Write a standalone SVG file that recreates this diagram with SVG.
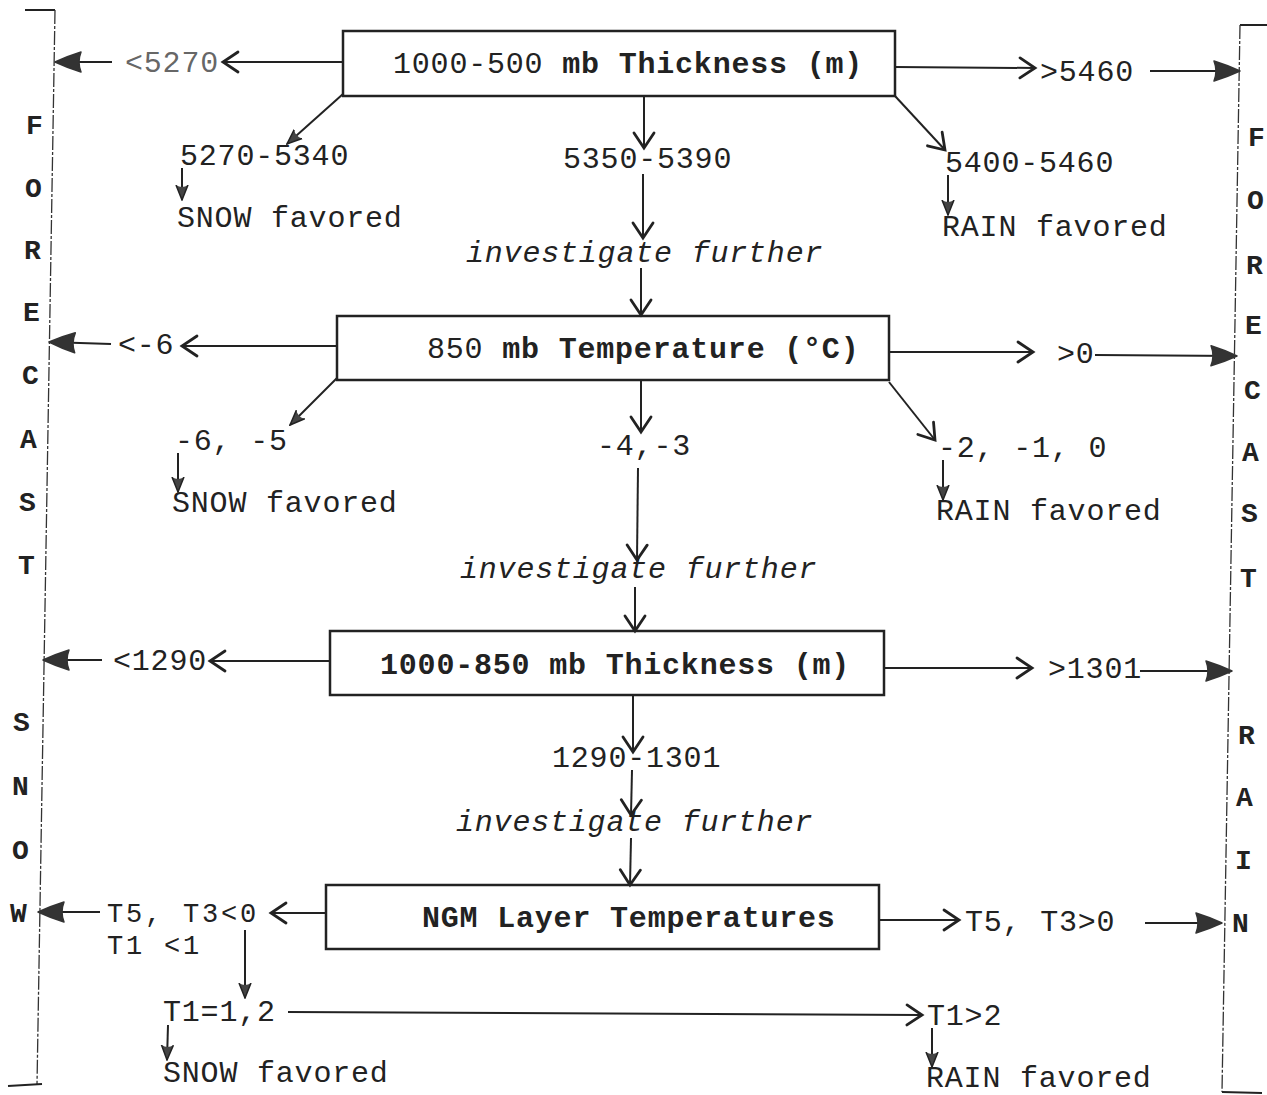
<svg xmlns="http://www.w3.org/2000/svg" width="1267" height="1095" viewBox="0 0 1267 1095">
<defs>
<style>
.t{font-family:"Liberation Mono","Courier New",monospace;font-size:30px;letter-spacing:0.8px;fill:#222}
.tc{font-family:"Liberation Mono","Courier New",monospace;font-size:27px;letter-spacing:2.8px;fill:#222}
.it{font-style:italic}
.b{font-weight:bold}
.side{font-family:"Liberation Mono","Courier New",monospace;font-size:28px;font-weight:bold;fill:#222}
.box{fill:#fff;stroke:#222;stroke-width:2.5}
.ln{stroke:#222;stroke-width:2;fill:none}
.edge{stroke:#333;stroke-width:1.3;fill:none;stroke-dasharray:14 2 3 2}
.frame{stroke:#222;stroke-width:2;fill:none}
</style>
<marker id="big" viewBox="0 0 28 24" refX="27" refY="12" markerWidth="28" markerHeight="24" markerUnits="userSpaceOnUse" orient="auto">
<path d="M1,2 Q14,6 27,12 Q14,18 1,22 Q5,12 1,2 z" fill="#333" stroke="#333" stroke-width="1.5" stroke-linejoin="round"/>
</marker>
<marker id="chev" viewBox="0 0 20 24" refX="17" refY="12" markerWidth="20" markerHeight="24" markerUnits="userSpaceOnUse" orient="auto">
<path d="M2,2 L17,12 L2,22" fill="none" stroke="#222" stroke-width="2.8" stroke-linecap="round"/>
</marker>
<marker id="sm" viewBox="0 0 16 14" refX="15" refY="7" markerWidth="16" markerHeight="14" markerUnits="userSpaceOnUse" orient="auto">
<path d="M0,1 L15,7 L0,13 Q4,7 0,1 z" fill="#444"/>
<path d="M0,1 L15,7 L0,13" fill="none" stroke="#222" stroke-width="1.5"/>
</marker>
</defs>

<g id="frame-left">
<path class="frame" d="M25,10 L55,10"/>
<path class="edge" d="M55,10 L37,1085"/>
<path class="frame" d="M8,1086 L42,1084"/>
<text class="side" x="26" y="134">F</text>
<text class="side" x="25" y="197">O</text>
<text class="side" x="24" y="259">R</text>
<text class="side" x="23" y="321">E</text>
<text class="side" x="22" y="384">C</text>
<text class="side" x="20" y="448">A</text>
<text class="side" x="19" y="511">S</text>
<text class="side" x="18" y="574">T</text>
<text class="side" x="13" y="731">S</text>
<text class="side" x="12" y="795">N</text>
<text class="side" x="12" y="859">O</text>
<text class="side" x="10" y="922">W</text>
</g>

<g id="frame-right">
<path class="frame" d="M1240,25 L1267,25"/>
<path class="edge" d="M1240,25 L1222,1092"/>
<path class="frame" d="M1222,1092 L1262,1093"/>
<text class="side" x="1248" y="146">F</text>
<text class="side" x="1247" y="209">O</text>
<text class="side" x="1246" y="274">R</text>
<text class="side" x="1245" y="334">E</text>
<text class="side" x="1244" y="399">C</text>
<text class="side" x="1242" y="461">A</text>
<text class="side" x="1241" y="522">S</text>
<text class="side" x="1240" y="587">T</text>
<text class="side" x="1238" y="744">R</text>
<text class="side" x="1236" y="806">A</text>
<text class="side" x="1235" y="869">I</text>
<text class="side" x="1232" y="932">N</text>
</g>

<g id="node-thick500">
<rect class="box" x="343" y="31" width="552" height="65"/>
<text class="t" x="393" y="73"><tspan>1000-500 </tspan><tspan class="b">mb Thickness (m)</tspan></text>
</g>

<g id="node-t850">
<rect class="box" x="337" y="316" width="552" height="64"/>
<text class="t" x="427" y="358"><tspan>850 </tspan><tspan class="b">mb Temperature (°C)</tspan></text>
</g>

<g id="node-thick850">
<rect class="box" x="330" y="631" width="554" height="64"/>
<text class="t b" x="380" y="674">1000-850 mb Thickness (m)</text>
</g>

<g id="node-ngm">
<rect class="box" x="326" y="885" width="553" height="64"/>
<text class="t b" x="422" y="927">NGM Layer Temperatures</text>
</g>

<g id="labels">
<text class="t" x="125" y="72" fill-opacity="0.7">&lt;5270</text>
<text class="t" x="1040" y="81">&gt;5460</text>
<text class="t" x="180" y="165">5270-5340</text>
<text class="t" x="177" y="227">SNOW favored</text>
<text class="t" x="563" y="168">5350-5390</text>
<text class="t it" x="466" y="262">investigate further</text>
<text class="t" x="945" y="172">5400-5460</text>
<text class="t" x="942" y="236">RAIN favored</text>

<text class="t" x="118" y="354">&lt;-6</text>
<text class="t" x="1057" y="363">&gt;0</text>
<text class="t" x="175" y="450">-6, -5</text>
<text class="t" x="172" y="512">SNOW favored</text>
<text class="t" x="597" y="455">-4,-3</text>
<text class="t it" x="460" y="578">investigate further</text>
<text class="t" x="938" y="457">-2, -1, 0</text>
<text class="t" x="936" y="520">RAIN favored</text>

<text class="t" x="113" y="670">&lt;1290</text>
<text class="t" x="1048" y="678">&gt;1301</text>
<text class="t" x="552" y="767">1290-1301</text>
<text class="t it" x="456" y="831">investigate further</text>

<text class="tc" x="107" y="922">T5, T3&lt;0</text>
<text class="tc" x="107" y="954">T1 &lt;1</text>
<text class="t" x="965" y="931">T5, T3&gt;0</text>
<text class="t" x="163" y="1021">T1=1,2</text>
<text class="t" x="927" y="1025">T1&gt;2</text>
<text class="t" x="163" y="1082">SNOW favored</text>
<text class="t" x="926" y="1087">RAIN favored</text>
</g>

<g id="connectors">
<!-- row 1 -->
<path class="ln" d="M343,62 L223,62" marker-end="url(#chev)"/>
<path class="ln" d="M112,62 L55,62" marker-end="url(#big)"/>
<path class="ln" d="M895,67 L1035,68" marker-end="url(#chev)"/>
<path class="ln" d="M1150,71 L1240,71" marker-end="url(#big)"/>
<path class="ln" d="M343,94 L287,144" marker-end="url(#sm)"/>
<path class="ln" d="M182,168 L182,200" marker-end="url(#sm)"/>
<path class="ln" d="M644,96 L644,148" marker-end="url(#chev)"/>
<path class="ln" d="M643,174 L643,238" marker-end="url(#chev)"/>
<path class="ln" d="M641,268 L641,315" marker-end="url(#chev)"/>
<path class="ln" d="M895,96 L945,150" marker-end="url(#chev)"/>
<path class="ln" d="M948,175 L948,215" marker-end="url(#sm)"/>
<!-- row 2 -->
<path class="ln" d="M337,346 L182,346" marker-end="url(#chev)"/>
<path class="ln" d="M111,344 L49,342" marker-end="url(#big)"/>
<path class="ln" d="M889,352 L1033,352" marker-end="url(#chev)"/>
<path class="ln" d="M1095,355 L1237,356" marker-end="url(#big)"/>
<path class="ln" d="M337,378 L290,425" marker-end="url(#sm)"/>
<path class="ln" d="M178,453 L178,492" marker-end="url(#sm)"/>
<path class="ln" d="M641,381 L641,432" marker-end="url(#chev)"/>
<path class="ln" d="M638,468 L637,560" marker-end="url(#chev)"/>
<path class="ln" d="M635,587 L635,631" marker-end="url(#chev)"/>
<path class="ln" d="M889,382 L935,440" marker-end="url(#chev)"/>
<path class="ln" d="M943,460 L943,500" marker-end="url(#sm)"/>
<!-- row 3 -->
<path class="ln" d="M330,661 L210,661" marker-end="url(#chev)"/>
<path class="ln" d="M102,660 L43,660" marker-end="url(#big)"/>
<path class="ln" d="M884,668 L1032,668" marker-end="url(#chev)"/>
<path class="ln" d="M1140,671 L1232,671" marker-end="url(#big)"/>
<path class="ln" d="M633,696 L633,752" marker-end="url(#chev)"/>
<path class="ln" d="M632,770 L631,815" marker-end="url(#chev)"/>
<path class="ln" d="M631,838 L630,885" marker-end="url(#chev)"/>
<!-- row 4 -->
<path class="ln" d="M326,913 L271,913" marker-end="url(#chev)"/>
<path class="ln" d="M100,912 L38,912" marker-end="url(#big)"/>
<path class="ln" d="M879,920 L959,920" marker-end="url(#chev)"/>
<path class="ln" d="M1145,923 L1222,923" marker-end="url(#big)"/>
<path class="ln" d="M245,930 L245,998" marker-end="url(#sm)"/>
<path class="ln" d="M288,1012 L922,1015" marker-end="url(#chev)"/>
<path class="ln" d="M168,1025 L167,1060" marker-end="url(#sm)"/>
<path class="ln" d="M932,1028 L932,1067" marker-end="url(#sm)"/>
</g>
</svg>
